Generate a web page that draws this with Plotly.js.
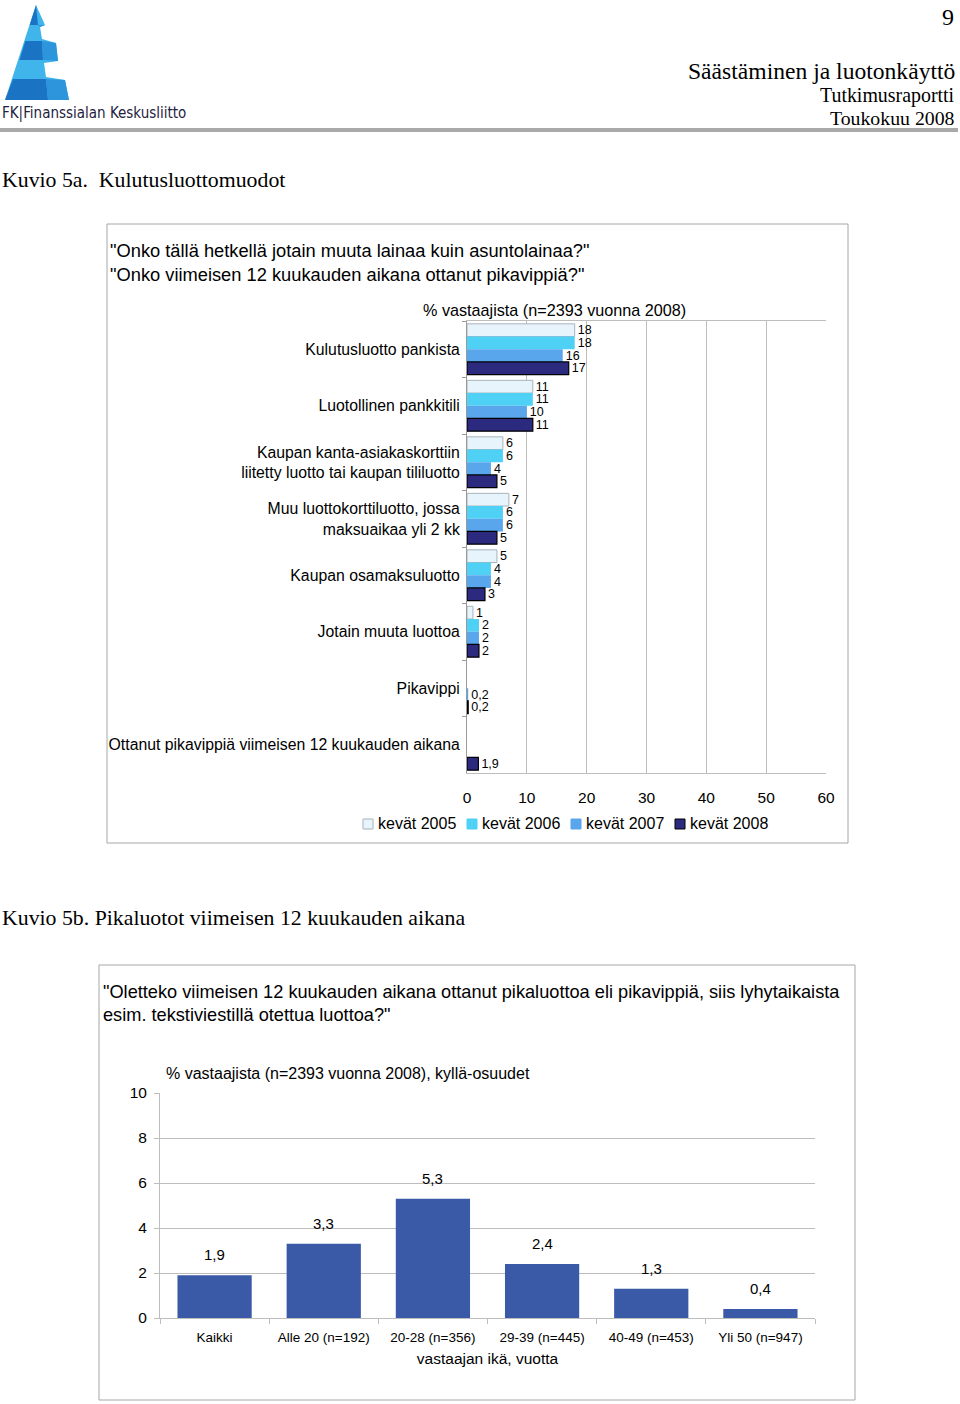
<!DOCTYPE html>
<html>
<head>
<meta charset="utf-8">
<script src="https://cdn.plot.ly/plotly-3.0.1.min.js"></script>
<style>
  html, body { margin: 0; padding: 0; background: #fff; }
  #page { width: 960px; height: 1404px; }
</style>
</head>
<body>
<div id="page"></div>
<script>
// ---------- DATA ----------
const topCategories = [
  'Kulutusluotto pankista',
  'Luotollinen pankkitili',
  'Kaupan kanta-asiakaskorttiin<br>liitetty luotto tai kaupan tililuotto',
  'Muu luottokorttiluotto, jossa<br>maksuaikaa yli 2 kk',
  'Kaupan osamaksuluotto',
  'Jotain muuta luottoa',
  'Pikavippi',
  'Ottanut pikavippiä viimeisen 12 kuukauden aikana'
];
const seriesNames = ['kevät 2005', 'kevät 2006', 'kevät 2007', 'kevät 2008'];
const values2005 = [18, 11, 6, 7, 5, 1, null, null];
const values2006 = [18, 11, 6, 6, 4, 2, null, null];
const values2007 = [16, 10, 4, 6, 4, 2, 0.2, null];
const values2008 = [17, 11, 5, 5, 3, 2, 0.2, 1.9];
const topTicks = [0, 10, 20, 30, 40, 50, 60];

const ageCategories = ['Kaikki', 'Alle 20 (n=192)', '20-28 (n=356)', '29-39 (n=445)', '40-49 (n=453)', 'Yli 50 (n=947)'];
const ageValues = [1.9, 3.3, 5.3, 2.4, 1.3, 0.4];
const ageTicks = [0, 2, 4, 6, 8, 10];

// ---------- STYLE ----------
const W = 960, H = 1404;
const SANS = 'Liberation Sans, Arial, sans-serif';
const COND = 'DejaVu Sans Condensed, Liberation Sans, Arial, sans-serif';
const SERIF = 'Liberation Serif, Times New Roman, serif';
const seriesColors = ['#e8f4fc', '#4fd0f5', '#5aa6ec', '#2b2a7e'];
const seriesLines = ['#a8b4bc', '#4fd0f5', '#5aa6ec', '#000000'];
const seriesLineW = [1, 0, 0, 1.2];
const GRID = '#bdbdbd';

const X = px => px / W;
const Y = py => 1 - py / H;
const fmt = v => (v === null ? '' : String(v).replace('.', ','));

// ---------- TRACES ----------
const seriesValues = [values2005, values2006, values2007, values2008];
const traces = seriesValues.map((vals, i) => ({
  type: 'bar',
  orientation: 'h',
  name: seriesNames[i],
  y: topCategories,
  x: vals,
  xaxis: 'x',
  yaxis: 'y',
  marker: { color: seriesColors[i], line: { color: seriesLines[i], width: seriesLineW[i] } },
  text: vals.map(fmt),
  textposition: 'outside',
  constraintext: 'none',
  cliponaxis: false,
  textfont: { family: SANS, size: 12.5, color: '#000' },
  showlegend: false,
  hoverinfo: 'skip'
}));

traces.push({
  type: 'bar',
  x: ageCategories,
  y: ageValues,
  xaxis: 'x2',
  yaxis: 'y2',
  width: 0.68,
  marker: { color: '#3a59a7' },
  showlegend: false,
  hoverinfo: 'skip'
});

// ---------- ANNOTATIONS ----------
function txt(x, y, text, size, family, anchor, color) {
  return {
    xref: 'paper', yref: 'paper', x: X(x), y: Y(y), text: text,
    showarrow: false, xanchor: anchor || 'left', yanchor: 'middle', borderpad: 0,
    font: { size: size, family: family, color: color || '#000' }
  };
}
const annotations = [
  txt(955, 17, '9', 24, SERIF, 'right'),
  txt(956, 71, 'Säästäminen ja luotonkäyttö', 23.6, SERIF, 'right'),
  txt(956, 96, 'Tutkimusraportti', 19.9, SERIF, 'right'),
  txt(956, 118, 'Toukokuu 2008', 19.8, SERIF, 'right'),
  txt(1, 113, 'FK|Finanssialan Keskusliitto', 15, COND, 'left', '#1e2240'),
  txt(1, 180, 'Kuvio 5a.\u00a0 Kulutusluottomuodot', 21.8, SERIF, 'left'),
  txt(109, 251, '"Onko tällä hetkellä jotain muuta lainaa kuin asuntolainaa?"', 18.3, SANS, 'left'),
  txt(109, 274, '"Onko viimeisen 12 kuukauden aikana ottanut pikavippiä?"', 18.3, SANS, 'left'),
  txt(554, 310, '% vastaajista (n=2393 vuonna 2008)', 16.2, SANS, 'center'),
  txt(1, 918, 'Kuvio 5b. Pikaluotot viimeisen 12 kuukauden aikana', 21.8, SERIF, 'left'),
  txt(102, 992, '"Oletteko viimeisen 12 kuukauden aikana ottanut pikaluottoa eli pikavippiä, siis lyhytaikaista', 18.2, SANS, 'left'),
  txt(102, 1015, 'esim. tekstiviestillä otettua luottoa?"', 18.2, SANS, 'left'),
  txt(165, 1073, '% vastaajista (n=2393 vuonna 2008), kyllä-osuudet', 16, SANS, 'left')
];
ageValues.forEach((v, i) => {
  annotations.push({
    xref: 'x2', yref: 'y2', x: ageCategories[i], y: v, text: fmt(v),
    showarrow: false, xanchor: 'center', yanchor: 'bottom', yshift: 10,
    font: { size: 15, family: SANS, color: '#000' }
  });
});

// ---------- SHAPES ----------
function poly(points, color) {
  const d = points.map((p, i) => (i ? 'L' : 'M') + X(p[0]).toFixed(5) + ',' + Y(p[1]).toFixed(5)).join(' ') + ' Z';
  return { type: 'path', xref: 'paper', yref: 'paper', path: d, fillcolor: color, line: { width: 0 }, layer: 'above' };
}
const shapes = [
  { type: 'rect', xref: 'paper', yref: 'paper', x0: 0, x1: X(958), y0: Y(128), y1: Y(132), fillcolor: '#a9a9a9', line: { width: 0 } },
  { type: 'rect', xref: 'paper', yref: 'paper', x0: X(107), x1: X(848), y0: Y(224), y1: Y(843), line: { color: '#a6a6a6', width: 1 } },
  { type: 'rect', xref: 'paper', yref: 'paper', x0: X(99), x1: X(855), y0: Y(965), y1: Y(1400), line: { color: '#a6a6a6', width: 1 } },
  // logo silhouette
  poly([[36,5],[45,25],[40,27],[42,39],[56,43],[58,61],[44,63],[46,77],[65,80],[69,100],[5,100]], '#3fb5ec'),
  poly([[36,5],[38,25],[29.7,25]], '#1b73c4'),
  poly([[25.3,41],[42,41],[43,60],[19.5,60]], '#1b73c4'),
  poly([[42,41],[56,43],[58,61],[43,60]], '#2d95dc'),
  poly([[13,79],[46,79],[48,100],[5,100]], '#1b73c4'),
  poly([[46,79],[65,80],[69,100],[48,100]], '#2d95dc'),
  poly([[38,25],[45,25],[40,27]], '#2d95dc')
];

// legend (drawn as keys + real text)
const legendX = [363, 467, 571, 675];
seriesNames.forEach((name, i) => {
  shapes.push({
    type: 'rect', xref: 'paper', yref: 'paper',
    x0: X(legendX[i]), x1: X(legendX[i] + 10), y0: Y(829), y1: Y(819),
    fillcolor: seriesColors[i], line: { color: i === 0 ? '#a8b4bc' : (i === 3 ? '#000' : seriesColors[i]), width: 1 }
  });
  annotations.push(txt(legendX[i] + 14, 824, name, 16, SANS, 'left'));
});

// ---------- LAYOUT ----------
const layout = {
  width: W, height: H,
  margin: { l: 0, r: 0, t: 0, b: 0 },
  paper_bgcolor: '#fff', plot_bgcolor: '#fff',
  separators: ',.',
  barmode: 'group', bargap: 0.1, bargroupgap: 0,
  font: { family: SANS, color: '#000' },
  showlegend: false,
  xaxis: {
    domain: [X(467), X(826)], anchor: 'y', range: [0, 60], tickvals: topTicks,
    showgrid: true, gridcolor: GRID, zeroline: false, showline: true, mirror: true, linecolor: GRID,
    ticks: '', ticklabelstandoff: 10, tickfont: { size: 15.5, family: SANS, color: '#000' }, fixedrange: true
  },
  yaxis: {
    domain: [Y(773), Y(321)], anchor: 'x', type: 'category', categoryorder: 'array', categoryarray: topCategories,
    autorange: 'reversed', showgrid: false, showline: true, linecolor: '#9a9a9a',
    ticks: 'outside', tickson: 'boundaries', ticklen: 4, tickcolor: '#9a9a9a', ticklabelstandoff: 3,
    tickfont: { size: 15.8, family: SANS, color: '#000' }, fixedrange: true
  },
  xaxis2: {
    domain: [X(160), X(815)], anchor: 'y2', type: 'category', categoryorder: 'array', categoryarray: ageCategories,
    showgrid: false, showline: true, linecolor: GRID, ticks: 'outside', tickson: 'boundaries', ticklen: 5, tickcolor: GRID,
    tickfont: { size: 13.5, family: SANS, color: '#000' }, ticklabelstandoff: 7,
    title: { text: 'vastaajan ikä, vuotta', font: { size: 15.5, family: SANS, color: '#000' }, standoff: 8 },
    fixedrange: true
  },
  yaxis2: {
    domain: [Y(1318), Y(1093)], anchor: 'x2', range: [0, 10], tickvals: ageTicks,
    showgrid: true, gridcolor: GRID, zeroline: false, showline: true, linecolor: GRID,
    ticks: 'outside', ticklen: 5, tickcolor: GRID, ticklabelstandoff: 4,
    tickfont: { size: 15.5, family: SANS, color: '#000' }, fixedrange: true
  },
  annotations: annotations,
  shapes: shapes
};

Plotly.newPlot('page', traces, layout, { displayModeBar: false, staticPlot: true });
</script>
</body>
</html>
